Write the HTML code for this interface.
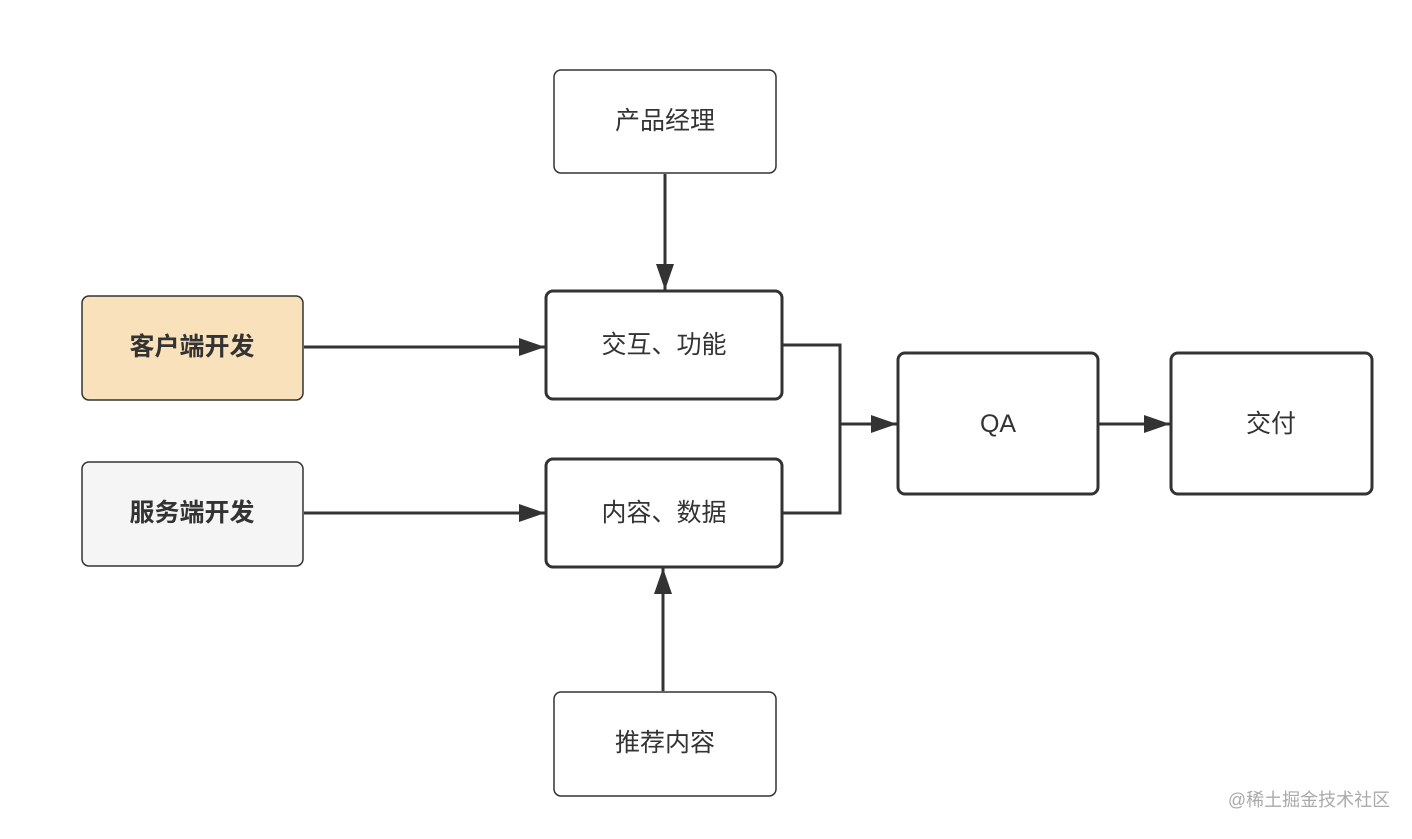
<!DOCTYPE html>
<html><head><meta charset="utf-8"><style>
body{margin:0;background:#fff}
svg text{font-family:"Liberation Sans","Noto Sans CJK SC",sans-serif;font-size:25px;fill:#333;text-anchor:middle;dominant-baseline:central}
</style></head><body>
<svg width="1412" height="834" viewBox="0 0 1412 834" xmlns="http://www.w3.org/2000/svg">
<defs><marker id="a" markerWidth="10" markerHeight="10" refX="9" refY="5" orient="auto" markerUnits="userSpaceOnUse" viewBox="0 0 10 10"><path d="M0,0 L10,5 L0,10 z" fill="#333"/></marker>
<marker id="b" markerWidth="26" markerHeight="20" refX="26" refY="10" orient="auto" markerUnits="userSpaceOnUse"><path d="M0,1 L26,10 L0,19 z" fill="#333"/></marker></defs>
<g fill="#fff" stroke="#333">
<rect x="554" y="70" width="222" height="103" rx="7" stroke-width="1.5"/>
<rect x="82" y="296" width="221" height="104" rx="7" stroke-width="1.5" fill="#f9e2bb"/>
<rect x="82" y="462" width="221" height="104" rx="7" stroke-width="1.5" fill="#f5f5f5"/>
<rect x="546" y="291" width="236" height="108" rx="7" stroke-width="3"/>
<rect x="546" y="459" width="236" height="108" rx="7" stroke-width="3"/>
<rect x="898" y="353" width="200" height="141" rx="7" stroke-width="3"/>
<rect x="1171" y="353" width="201" height="141" rx="7" stroke-width="3"/>
<rect x="554" y="692" width="222" height="104" rx="7" stroke-width="1.5"/>
</g>
<g stroke="#333" stroke-width="3" fill="none">
<line x1="665" y1="174" x2="665" y2="290" marker-end="url(#b)"/>
<line x1="304" y1="347" x2="545" y2="347" marker-end="url(#b)"/>
<line x1="304" y1="513" x2="545" y2="513" marker-end="url(#b)"/>
<polyline points="783,345 840,345 840,513 783,513"/>
<line x1="840" y1="424" x2="897" y2="424" marker-end="url(#b)"/>
<line x1="1099" y1="424" x2="1170" y2="424" marker-end="url(#b)"/>
<line x1="663" y1="691" x2="663" y2="568" marker-end="url(#b)"/>
</g>
<text x="665" y="121">产品经理</text>
<text x="192" y="347" font-weight="bold">客户端开发</text>
<text x="192" y="513" font-weight="bold">服务端开发</text>
<text x="664" y="345">交互、功能</text>
<text x="664" y="513">内容、数据</text>
<text x="998" y="424">QA</text>
<text x="1271" y="424">交付</text>
<text x="665" y="743">推荐内容</text>
<text x="1309" y="800" style="font-size:18px;fill:#aaa">@稀土掘金技术社区</text>
</svg>
</body></html>
